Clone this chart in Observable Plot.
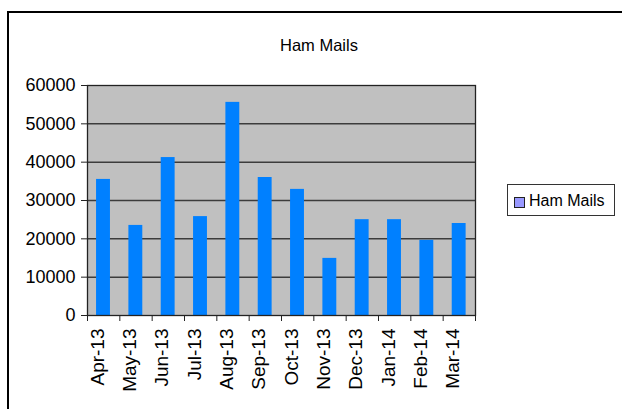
<!DOCTYPE html>
<html>
<head>
<meta charset="utf-8">
<script src="https://cdn.jsdelivr.net/npm/d3@7"></script>
<script src="https://cdn.jsdelivr.net/npm/@observablehq/plot@0.6"></script>
<style>
  html, body { margin: 0; padding: 0; background: #fff; }
  #wrap { position: relative; width: 622px; height: 409px; overflow: hidden; font-family: "Liberation Sans", Arial, sans-serif; }
  #border { position: absolute; left: 7px; top: 11px; width: 700px; height: 500px; border: 2px solid #000; box-sizing: border-box; }
  #title { position: absolute; left: 0; top: 36px; width: 638px; text-align: center; font-size: 16.5px; color: #000; }
  #legend { position: absolute; left: 507px; top: 184px; width: 108px; height: 32px; border: 1px solid #333; box-sizing: border-box; background: #fff; }
  #legend .sw { position: absolute; left: 6px; top: 12px; width: 11px; height: 11px; background: #9999ff; border: 1px solid #222; box-sizing: border-box; }
  #legend .lb { position: absolute; left: 21px; top: 7px; font-size: 16px; white-space: nowrap; }
  #chart { position: absolute; left: 0; top: 0; }
</style>
</head>
<body>
<div id="wrap">
  <div id="border"></div>
  <div id="chart"></div>
  <div id="title">Ham Mails</div>
  <div id="legend"><div class="sw"></div><div class="lb">Ham Mails</div></div>
</div>
<script>
const months = ["Apr-13","May-13","Jun-13","Jul-13","Aug-13","Sep-13","Oct-13","Nov-13","Dec-13","Jan-14","Feb-14","Mar-14"];
const hamMails = [35500, 23500, 41200, 25800, 55600, 36000, 32900, 14900, 25000, 25000, 19600, 24000];
const yTicks = [0, 10000, 20000, 30000, 40000, 50000, 60000];
const gridTicks = [10000, 20000, 30000, 40000, 50000];
const xBoundaries = d3.range(months.length + 1);

const chart = Plot.plot({
  width: 622,
  height: 409,
  marginLeft: 87,
  marginRight: 147,
  marginTop: 85,
  marginBottom: 94,
  style: { background: "transparent", fontFamily: "Liberation Sans, Arial, sans-serif", overflow: "visible" },
  x: { type: "linear", domain: [0, months.length], axis: null },
  y: { domain: [0, 60000], axis: null },
  marks: [
    Plot.frame({ fill: "#c0c0c0", stroke: null }),
    Plot.ruleY(gridTicks, { stroke: "#3c3c3c", strokeWidth: 1.5 }),
    Plot.rectY(hamMails, { x1: (d, i) => i + 0.28, x2: (d, i) => i + 0.71, y1: 0, y2: d => d, fill: "#0080ff" }),
    Plot.frame({ stroke: "#222", strokeWidth: 1.3 }),
    Plot.axisY({ ticks: yTicks, tickSize: 6, tickFormat: () => "", label: null, stroke: "#222" }),
    Plot.axisX({ ticks: xBoundaries, tickSize: 6, tickFormat: () => "", label: null, stroke: "#222" }),
    Plot.text(yTicks, { y: d => d, frameAnchor: "left", text: d => String(d), textAnchor: "end", dx: -12, fontSize: 18, fill: "#000", ariaLabel: "ylabels" }),
    Plot.text(months, { x: (d, i) => i + 0.5, frameAnchor: "bottom", text: d => d, rotate: -90, textAnchor: "end", dy: 13, fontSize: 19, fill: "#000", ariaLabel: "xlabels" })
  ]
});
document.getElementById("chart").appendChild(chart);

function squash(label, sx, sy) {
  chart.querySelectorAll(`g[aria-label="${label}"] text`).forEach(t => {
    const x = +t.getAttribute("x") || 0, y = +t.getAttribute("y") || 0;
    const tr = t.getAttribute("transform") || "";
    t.removeAttribute("x"); t.removeAttribute("y");
    t.setAttribute("transform", `${tr} translate(${x},${y}) scale(${sx},${sy})`);
  });
}
squash("ylabels", 0.87, 1);
squash("xlabels", 1, 0.8);
</script>
</body>
</html>
